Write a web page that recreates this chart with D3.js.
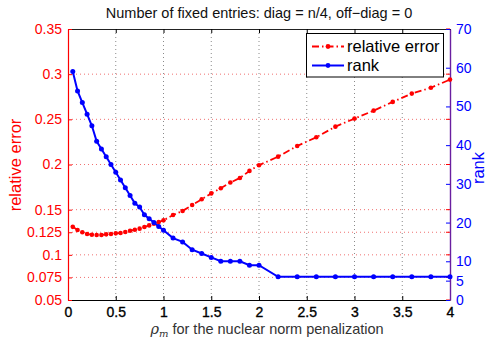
<!DOCTYPE html>
<html>
<head>
<meta charset="utf-8">
<script src="https://cdn.jsdelivr.net/npm/d3@7"></script>
<style>
  html, body { margin: 0; padding: 0; background: #fff; }
  svg { display: block; font-family: "Liberation Sans", Arial, Helvetica, sans-serif; }
</style>
</head>
<body>
<svg id="chart" width="486" height="343"></svg>
<script>
// penalization parameter values
const rho = [0.05, 0.1, 0.15, 0.2, 0.25, 0.3, 0.35, 0.4, 0.45, 0.5,
             0.55, 0.6, 0.65, 0.7, 0.75, 0.8, 0.85, 0.9, 0.95, 1.0,
             1.1, 1.2, 1.3, 1.4, 1.5, 1.6, 1.7, 1.8, 1.9, 2.0,
             2.2, 2.4, 2.6, 2.8, 3.0, 3.2, 3.4, 3.6, 3.8, 4.0];
// relative error (left axis)
const relError = [0.131, 0.1275, 0.125, 0.1231, 0.1222, 0.122, 0.122, 0.1227, 0.1231, 0.1238,
                  0.1242, 0.1253, 0.1266, 0.1278, 0.129, 0.1308, 0.1326, 0.1345, 0.1363, 0.1382,
                  0.1441, 0.1486, 0.1552, 0.1615, 0.168, 0.1737, 0.18, 0.1851, 0.1929, 0.1992,
                  0.2087, 0.2205, 0.2302, 0.2419, 0.2508, 0.2596, 0.2693, 0.2785, 0.285, 0.294];
// rank of the estimate (right axis)
const rankVals = [59, 54, 51, 48, 45, 41, 39, 37, 35, 33,
                  31, 29, 27, 25, 24, 22, 21, 20, 19, 18,
                  16, 15, 13, 12, 11, 10, 10, 10, 9, 9,
                  6, 6, 6, 6, 6, 6, 6, 6, 6, 6];

const xTicks = [0, 0.5, 1, 1.5, 2, 2.5, 3, 3.5, 4];
const xTickLabels = ["0", "0.5", "1", "1.5", "2", "2.5", "3", "3.5", "4"];
const leftTicks = [0.05, 0.075, 0.1, 0.125, 0.15, 0.2, 0.25, 0.3, 0.35];
const leftTickLabels = ["0.05", "0.075", "0.1", "0.125", "0.15", "0.2", "0.25", "0.3", "0.35"];
const rightTicks = [0, 5, 10, 20, 30, 40, 50, 60, 70];
const seriesNames = ["relative error", "rank"];

const titleText = "Number of fixed entries: diag = n/4, off\u2212diag = 0";

const RED = "#ff0000", BLUE = "#0000ff";
const L = 68, R = 450, T = 29, B = 300;

const svg = d3.select("#chart");
const x = d3.scaleLinear().domain([0, 4]).range([L, R]);
const yL = d3.scaleLinear().domain([0.05, 0.35]).range([B, T]);
const yR = d3.scaleLinear().domain([0, 70]).range([B, T]);

// grid: vertical dotted gray, horizontal dotted red
svg.append("g").selectAll("line")
  .data(xTicks.filter(t => t > 0 && t < 4)).join("line")
  .attr("x1", d => x(d)).attr("x2", d => x(d))
  .attr("y1", T).attr("y2", B)
  .attr("stroke", "#8a8a8a").attr("stroke-width", 1)
  .attr("stroke-dasharray", "1,3");
svg.append("g").selectAll("line")
  .data(leftTicks.filter(t => t > 0.05 && t < 0.35)).join("line")
  .attr("x1", L).attr("x2", R)
  .attr("y1", d => yL(d)).attr("y2", d => yL(d))
  .attr("stroke", "#f07070").attr("stroke-width", 1)
  .attr("stroke-dasharray", "1,3");

// axes (ticks pointing inward)
const tk = 4;
const gx = svg.append("g").attr("transform", `translate(0,${B})`)
  .call(d3.axisBottom(x).tickValues(xTicks).tickSizeInner(-tk).tickSizeOuter(0)
        .tickFormat((d, i) => xTickLabels[i]).tickPadding(7));
gx.select(".domain").attr("stroke", "#000").attr("stroke-width", 1.2);
gx.selectAll(".tick line").attr("stroke", "#000");
gx.selectAll(".tick text").attr("font-size", 14).attr("fill", "#000")
  .attr("stroke", "#000").attr("stroke-width", 0.35);

const gxTop = svg.append("g").attr("transform", `translate(0,${T})`)
  .call(d3.axisTop(x).tickValues(xTicks).tickSizeInner(-tk).tickSizeOuter(0).tickFormat(""));
gxTop.select(".domain").attr("stroke", "#222").attr("stroke-width", 1.2);
gxTop.selectAll(".tick line").attr("stroke", "#000");

const gl = svg.append("g").attr("transform", `translate(${L},0)`)
  .call(d3.axisLeft(yL).tickValues(leftTicks).tickSizeInner(-tk).tickSizeOuter(0)
        .tickFormat((d, i) => leftTickLabels[i]).tickPadding(6));
gl.select(".domain").attr("stroke", RED).attr("stroke-width", 1.2);
gl.selectAll(".tick line").attr("stroke", RED);
gl.selectAll(".tick text").attr("font-size", 14).attr("fill", RED);

// red ticks mirrored on the right edge
svg.append("g").selectAll("line").data(leftTicks).join("line")
  .attr("x1", R - tk).attr("x2", R)
  .attr("y1", d => yL(d)).attr("y2", d => yL(d))
  .attr("stroke", RED);

const gr = svg.append("g").attr("transform", `translate(${R},0)`)
  .call(d3.axisRight(yR).tickValues(rightTicks).tickSizeInner(-tk).tickSizeOuter(0).tickPadding(6));
gr.select(".domain").attr("stroke", "#6a1fa0").attr("stroke-width", 1.4);
gr.selectAll(".tick line").attr("stroke", BLUE);
gr.selectAll(".tick text").attr("font-size", 14).attr("fill", BLUE);
svg.selectAll(".domain").attr("fill", "none");

// series
const lineErr = d3.line().x((d, i) => x(rho[i])).y(d => yL(d));
const lineRank = d3.line().x((d, i) => x(rho[i])).y(d => yR(d));

svg.append("path").datum(relError).attr("d", lineErr)
  .attr("fill", "none").attr("stroke", RED).attr("stroke-width", 1.8)
  .attr("stroke-dasharray", "7,3,1.5,3");
svg.append("g").selectAll("circle").data(relError).join("circle")
  .attr("cx", (d, i) => x(rho[i])).attr("cy", d => yL(d)).attr("r", 2.3).attr("fill", RED);

svg.append("path").datum(rankVals).attr("d", lineRank)
  .attr("fill", "none").attr("stroke", BLUE).attr("stroke-width", 2);
svg.append("g").selectAll("circle").data(rankVals).join("circle")
  .attr("cx", (d, i) => x(rho[i])).attr("cy", d => yR(d)).attr("r", 2.5).attr("fill", BLUE);

// legend
const lg = svg.append("g");
lg.append("rect").attr("x", 306.5).attr("y", 33.5).attr("width", 137).attr("height", 43.5)
  .attr("fill", "#fff").attr("stroke", "#000").attr("stroke-width", 1);
const legendRows = [
  { name: seriesNames[0], color: RED, dash: "7,3,1.5,3", y: 46.5 },
  { name: seriesNames[1], color: BLUE, dash: null, y: 65.5 }
];
legendRows.forEach(r => {
  lg.append("line").attr("x1", 312).attr("x2", 344).attr("y1", r.y).attr("y2", r.y)
    .attr("stroke", r.color).attr("stroke-width", r.dash ? 1.8 : 2)
    .attr("stroke-dasharray", r.dash);
  lg.append("circle").attr("cx", 328).attr("cy", r.y).attr("r", 2.4).attr("fill", r.color);
  lg.append("text").attr("x", 347).attr("y", r.y + 5.5).attr("font-size", 16.5)
    .attr("fill", "#000").text(r.name);
});

// title
svg.append("text").attr("x", 259).attr("y", 18).attr("text-anchor", "middle")
  .attr("font-size", 14.5).attr("fill", "#111").text(titleText);

// axis labels
svg.append("text").attr("transform", `translate(21,165) rotate(-90)`)
  .attr("text-anchor", "middle").attr("font-size", 16.5).attr("fill", RED).text("relative error");
svg.append("text").attr("transform", `translate(484,168) rotate(-90)`)
  .attr("text-anchor", "middle").attr("font-size", 16.5).attr("fill", BLUE).text("rank");

const xl = svg.append("text").attr("x", 267).attr("y", 334).attr("text-anchor", "middle")
  .attr("font-size", 14.5).attr("fill", "#333");
xl.append("tspan").attr("font-family", "'DejaVu Serif', serif").attr("font-style", "italic").text("\u03C1");
xl.append("tspan").attr("font-family", "'DejaVu Serif', serif").attr("font-style", "italic")
  .attr("font-size", 10).attr("dy", 3).text("m");
xl.append("tspan").attr("dy", -3).text(" for the nuclear norm penalization");
</script>
</body>
</html>
